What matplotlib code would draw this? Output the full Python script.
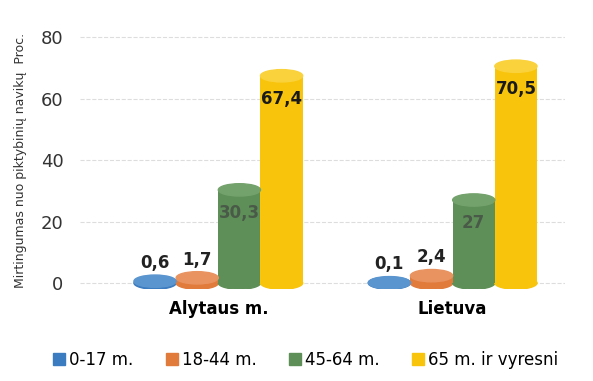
import matplotlib.pyplot as plt
from matplotlib.patches import Ellipse
from matplotlib.lines import Line2D
import numpy as np

categories = ["Alytaus m.", "Lietuva"]
series = ["0-17 m.", "18-44 m.", "45-64 m.", "65 m. ir vyresni"]
values = [
    [0.6, 1.7, 30.3, 67.4],
    [0.1, 2.4, 27, 70.5],
]
labels = [
    ["0,6", "1,7", "30,3", "67,4"],
    ["0,1", "2,4", "27", "70,5"],
]
colors = ["#3b7bbf", "#e07b3c", "#5f8f58", "#f8c40c"]
tops = ["#5b95cf", "#e99361", "#74a26c", "#fad23c"]

fig = plt.figure(figsize=(5.93, 3.81), dpi=100)
ax = fig.add_axes([0.135, 0.241, 0.818, 0.678])

w = 0.18
ell_h = 4.0
x = np.arange(len(categories))
for i in range(len(series)):
    xs = x + (i - 1.5) * w
    for j, xc in enumerate(xs):
        v = values[j][i]
        ax.bar(xc, v, width=w, color=colors[i], zorder=3)
        ax.add_patch(Ellipse((xc, 0), w, ell_h, color=colors[i], zorder=2))
        ax.add_patch(Ellipse((xc, v), w, ell_h, color=tops[i], zorder=4))
        if i < 2:
            ax.text(xc, v + 3, labels[j][i], ha="center", va="bottom",
                    fontsize=12, fontweight="bold", color="#222222", zorder=5)
        else:
            tc = "#4a5a48" if i == 2 else "#1a1a1a"
            ax.text(xc, v - 4.5, labels[j][i], ha="center", va="top",
                    fontsize=12, fontweight="bold", color=tc, zorder=5)

ax.set_xlim(-0.59, 1.48)
ax.set_ylim(-2, 82)
ax.set_yticks([0, 20, 40, 60, 80])
ax.set_xticks(x)
ax.set_xticklabels(categories, fontsize=12, fontweight="bold")
ax.tick_params(axis="x", length=0, pad=8)
ax.tick_params(axis="y", length=0, labelsize=13, labelcolor="#333333", pad=12)
ax.grid(axis="y", color="#dddddd", linestyle="--", linewidth=0.8, zorder=0)
for s in ax.spines.values():
    s.set_visible(False)

ax.set_ylabel("Mirtingumas nuo piktybinių navikų  Proc.", fontsize=9,
              color="#333333", labelpad=10)

handles = [Line2D([], [], marker="s", linestyle="", markersize=8,
                  markerfacecolor=c, markeredgecolor=c) for c in colors]
fig.legend(handles, series, loc="center", bbox_to_anchor=(0.515, 0.055),
           ncol=4, frameon=False, fontsize=12, handletextpad=0.2,
           columnspacing=1.9, handlelength=0.8)

fig.savefig("out.png", dpi=100)
